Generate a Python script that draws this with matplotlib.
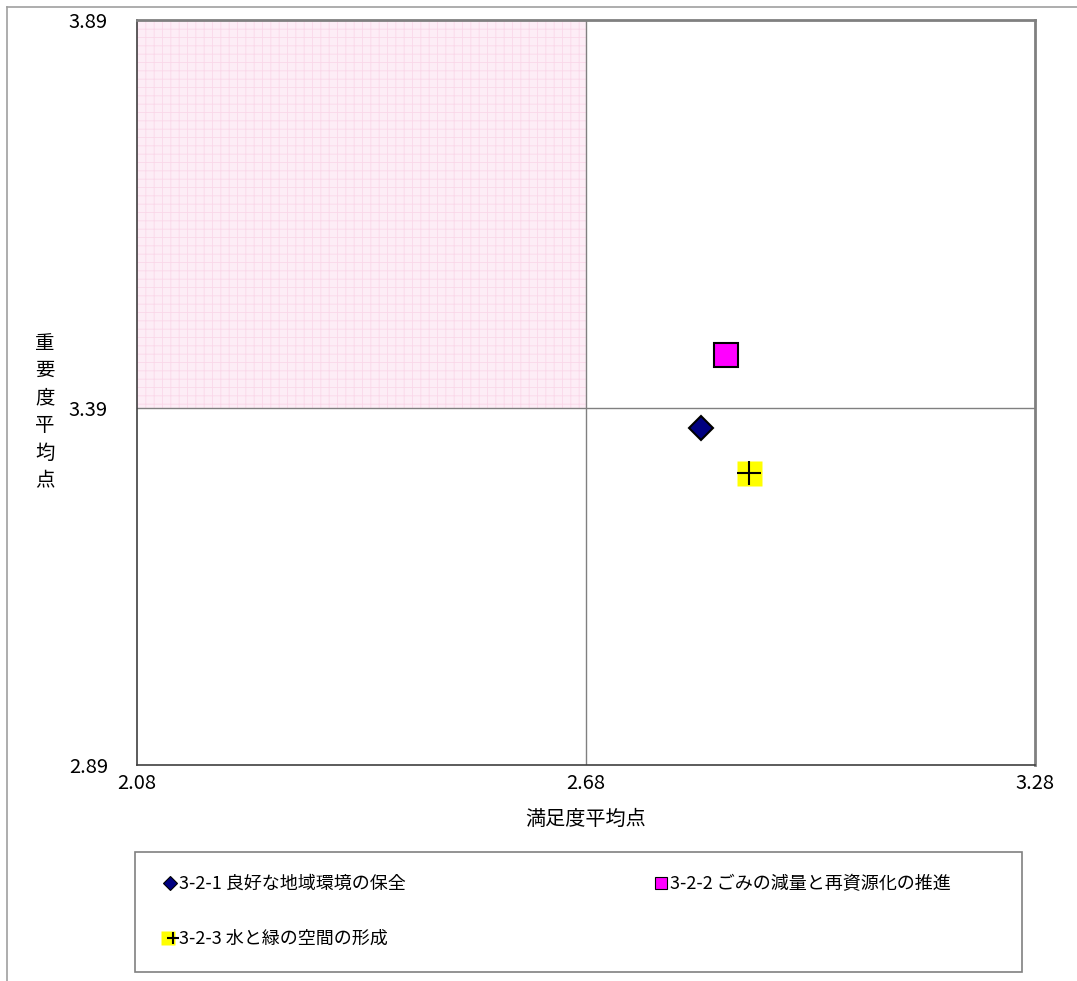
import matplotlib
matplotlib.use("Agg")
import matplotlib.pyplot as plt
from matplotlib.patches import Rectangle
from matplotlib.legend_handler import HandlerTuple
from matplotlib.lines import Line2D

plt.rcParams['font.family'] = ['Noto Sans CJK JP', 'DejaVu Sans']
plt.rcParams['hatch.linewidth'] = 0.6

# Data
labels = ["3-2-1 良好な地域環境の保全", "3-2-2 ごみの減量と再資源化の推進", "3-2-3 水と緑の空間の形成"]
satisfaction = [2.834, 2.867, 2.898]
importance = [3.364, 3.458, 3.306]
x_ticks = [2.08, 2.68, 3.28]
x_ticklabels = ["2.08", "2.68", "3.28"]
y_ticks = [2.93, 3.39, 3.89]
y_ticklabels = ["2.89", "3.39", "3.89"]
x_label = "満足度平均点"
y_label = "重要度平均点"

W, H = 1077, 981
fig = plt.figure(figsize=(W / 100, H / 100), dpi=100)
ax = fig.add_axes([137 / W, 1 - 765 / H, (1035 - 137) / W, (765 - 20) / H])
ax.set_xlim(x_ticks[0], x_ticks[-1])
ax.set_ylim(y_ticks[0], y_ticks[-1])

# shaded quadrant (low satisfaction, high importance)
ax.add_patch(Rectangle((x_ticks[0], y_ticks[1]), x_ticks[1] - x_ticks[0], y_ticks[2] - y_ticks[1],
                       facecolor='#fdedf6', edgecolor='#fad8e9', hatch='++', linewidth=0, zorder=0))

ax.axvline(x_ticks[1], color='#808080', lw=1.0, zorder=1)
ax.axhline(y_ticks[1], color='#808080', lw=1.0, zorder=1)

ax.set_xticks(x_ticks)
ax.set_yticks(y_ticks)
ax.set_xticklabels(x_ticklabels, fontsize=14.5)
ax.set_yticklabels(y_ticklabels, fontsize=14.5)
ax.tick_params(length=0)
ax.tick_params(axis='y', pad=21)
ax.tick_params(axis='x', pad=6)

for s in ['left', 'bottom']:
    ax.spines[s].set_color('#404040')
    ax.spines[s].set_linewidth(1.2)
for s in ['top', 'right']:
    ax.spines[s].set_color('#808080')
    ax.spines[s].set_linewidth(2.0)

fig.text(586 / W, 1 - 819 / H, x_label, fontsize=14.5, ha='center', va='center')
fig.text(45 / W, 1 - 412 / H, "\n".join(y_label), fontsize=14, ha='center', va='center',
         linespacing=1.41)

ax.plot([satisfaction[0]], [importance[0]], 'D', ms=12.5, mfc='#000080', mec='black', mew=1.5, ls='none', zorder=3)
ax.plot([satisfaction[1]], [importance[1]], 's', ms=17, mfc='#ff00ff', mec='black', mew=1.5, ls='none', zorder=3)
ax.plot([satisfaction[2]], [importance[2]], 's', ms=18, mfc='#ffff00', mec='none', ls='none', zorder=3)
ax.plot([satisfaction[2]], [importance[2]], '+', ms=17, mec='black', mew=1.5, ls='none', zorder=4)

# legend box
fig.add_artist(Rectangle((135 / W, 1 - 972 / H), (1022 - 135) / W, (972 - 852) / H,
                         transform=fig.transFigure, facecolor='white', edgecolor='#808080', lw=1.2))

l1 = Line2D([], [], marker='D', ms=7, mfc='#000080', mec='black', mew=0.8, ls='none')
l2 = Line2D([], [], marker='s', ms=9, mfc='#ff00ff', mec='black', mew=0.8, ls='none')
l3a = Line2D([], [], marker='s', ms=10, mfc='#ffff00', mec='none', ls='none')
l3b = Line2D([], [], marker='+', ms=9, mec='black', mew=1.5, ls='none')

common = dict(loc='upper left', fontsize=13, frameon=False, handlelength=0.6, handletextpad=0.15,
              borderpad=0, borderaxespad=0, labelspacing=2.05,
              handler_map={tuple: HandlerTuple(ndivide=None, pad=0)})
fig.legend([l1, (l3a, l3b)], [labels[0], labels[2]], bbox_to_anchor=(165 / W, 1 - 875 / H), **common)
fig.legend([l2], [labels[1]], bbox_to_anchor=(656 / W, 1 - 875 / H), **common)

# outer border lines (left and top)
fig.add_artist(Line2D([7 / W, 7 / W], [0, 1 - 7 / H], color='#a0a0a0', lw=1.2, transform=fig.transFigure))
fig.add_artist(Line2D([7 / W, 1], [1 - 7 / H, 1 - 7 / H], color='#a0a0a0', lw=1.2, transform=fig.transFigure))

fig.savefig("out.png", dpi=100, facecolor='white')
